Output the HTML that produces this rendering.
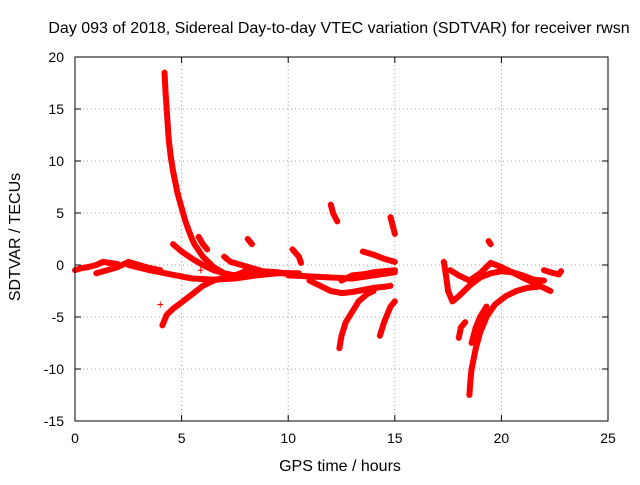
<!DOCTYPE html>
<html><head><meta charset="utf-8"><style>
body{margin:0;background:#fff;}
svg text{font-family:"Liberation Sans",sans-serif;font-size:14px;fill:#000;}
svg text.big{font-size:16px;}
</style></head><body>
<svg id="chart" width="640" height="480" xmlns="http://www.w3.org/2000/svg">
<rect width="640" height="480" fill="#fff"/>
<text class="big" x="339" y="33" text-anchor="middle">Day 093 of 2018, Sidereal Day-to-day VTEC variation (SDTVAR) for receiver rwsn</text>
<text class="big" x="340" y="471" text-anchor="middle">GPS time / hours</text>
<text class="big" transform="translate(20,237) rotate(-90)" text-anchor="middle">SDTVAR / TECUs</text>
<g id="grid"></g><g id="marks"></g>
<rect x="75" y="57" width="533" height="364" fill="none" stroke="#000" stroke-width="1"/>
</svg>
<script>
const xTicks=[0,5,10,15,20,25];
const yTicks=[-15,-10,-5,0,5,10,15,20];
const trackA=[[0,-0.5],[0.3,-0.3],[0.6,-0.2],[1,0],[1.3,0.3],[1.6,0.2],[2,0.1]];
const trackB=[[1,-0.8],[1.5,-0.5],[2,-0.2],[2.5,0.3],[3,0],[3.5,-0.3],[4,-0.5]];
const trackC=[[2.5,0],[3.5,-0.5],[4.5,-0.9],[5.5,-1.3],[6.5,-1.4],[7.5,-1.3],[8.5,-1.0],[9.5,-0.8],[10.5,-0.8]];
const trackD=[[4.2,18.5],[4.25,16.5],[4.3,15],[4.35,13.5],[4.4,12],[4.5,10.3],[4.6,9],[4.7,8],[4.8,7],[4.9,6.2],[5,5.5],[5.15,4.4],[5.3,3.5],[5.45,2.7],[5.6,2],[5.8,1.4],[6,0.8],[6.25,0.3],[6.5,-0.2],[7,-0.8],[7.5,-1.2]];
const trackE=[[4.1,-5.8],[4.3,-4.8],[4.6,-4.2],[5,-3.6],[5.5,-2.8],[6,-2],[6.5,-1.5],[7,-1.2],[7.5,-1.0],[8,-0.7],[8.5,-0.6],[9,-0.7],[10,-0.8]];
const trackF=[[4.6,2],[5,1.3],[5.5,0.6],[6,0],[6.5,-0.5],[7,-0.8],[7.5,-1.0],[8,-0.6]];
const trackG=[[5.8,2.7],[6,2],[6.2,1.5]];
const trackH=[[7,0.8],[7.3,0.3],[7.8,0],[8.3,-0.3],[8.8,-0.6],[9.5,-0.7],[10.5,-1.0]];
const trackI=[[8.1,2.5],[8.3,2.0]];
const trackJ=[[10.2,1.5],[10.5,0.8],[10.6,0.2]];
const trackK=[[10,-1],[11,-1.1],[12,-1.2],[13,-1.3],[14,-1],[15,-0.7]];
const trackL=[[11,-1.5],[11.5,-2],[12,-2.5],[12.5,-2.7],[13,-2.6],[13.5,-2.4],[14,-2.2],[14.5,-2.1],[14.8,-2]];
const trackM=[[12,5.8],[12.1,5],[12.3,4.2]];
const trackN=[[12.4,-8],[12.5,-6.8],[12.7,-5.5],[13,-4.5],[13.3,-3.5],[13.7,-2.8],[14,-2.5]];
const trackO=[[12.5,-1.5],[13,-1.0],[13.5,-0.9],[14,-0.7],[14.5,-0.6],[15,-0.5]];
const trackP=[[13.5,1.3],[14,1],[14.5,0.6],[15,0.3]];
const trackQ=[[14.3,-6.8],[14.5,-5.5],[14.8,-4],[15,-3.5]];
const trackR=[[14.8,4.6],[14.9,3.8],[15,3]];
const trackT=[[17.3,0.3],[17.4,-1],[17.5,-2.5],[17.7,-3.5],[18,-3.0],[18.5,-2.0],[19,-1.2],[19.5,-0.8],[20,-0.6],[20.5,-0.7],[21,-1],[21.5,-1.4],[22,-1.5]];
const trackU=[[17.6,-0.5],[18,-1],[18.5,-1.5],[19,-0.8],[19.5,0.2],[20,-0.2],[20.5,-0.7],[21,-1.2],[21.5,-1.7],[22,-2.2],[22.3,-2.5]];
const trackV=[[18.5,-12.5],[18.55,-11],[18.6,-10],[18.7,-9],[18.8,-8],[19,-6.5],[19.3,-5],[19.7,-3.8],[20.2,-3],[20.7,-2.5],[21.2,-2.2],[21.7,-2.1]];
const trackW=[[18,-7],[18.1,-6],[18.3,-5.5]];
const trackX=[[18.6,-7.5],[18.8,-6],[19,-5],[19.3,-4]];
const trackY=[[19.4,2.3],[19.5,2]];
const trackZ=[[22,-0.5],[22.3,-0.7],[22.7,-0.9],[22.8,-0.6]];
const outliers=[[4,-3.8],[5.9,-0.5]];
const tracks=[trackA,trackB,trackC,trackD,trackE,trackF,trackG,trackH,trackI,trackJ,trackK,trackL,trackM,trackN,trackO,trackP,trackQ,trackR,trackT,trackU,trackV,trackW,trackX,trackY,trackZ];

const NS="http://www.w3.org/2000/svg";
const X0=75,X1=608,Y0=421,Y1=57;
const xs=v=>X0+(v-0)/(25-0)*(X1-X0);
const ys=v=>Y0-(v+15)/(20+15)*(Y0-Y1);
const grid=document.getElementById('grid'),marks=document.getElementById('marks');
function mk(tag,attrs,parent){const e=document.createElementNS(NS,tag);for(const k in attrs)e.setAttribute(k,attrs[k]);parent.appendChild(e);return e;}
xTicks.forEach(t=>{
  const x=xs(t);
  if(t>0&&t<25){const l=mk('line',{x1:x,x2:x,y1:Y1,y2:Y0,stroke:'#a0a0a0','stroke-dasharray':'1,3'},grid);
  
  }
  mk('line',{x1:x,x2:x,y1:Y0,y2:Y0-6,stroke:'#000'},grid);
  mk('line',{x1:x,x2:x,y1:Y1,y2:Y1+6,stroke:'#000'},grid);
  const tx=mk('text',{x:x,y:Y0+22,'text-anchor':'middle'},grid);tx.textContent=t;
  
  
});
yTicks.forEach(t=>{
  const y=ys(t);
  if(t>-15&&t<20){const l=mk('line',{x1:X0,x2:X1,y1:y,y2:y,stroke:'#a0a0a0','stroke-dasharray':'1,3'},grid);
  
  }
  mk('line',{x1:X0,x2:X0+6,y1:y,y2:y,stroke:'#000'},grid);
  mk('line',{x1:X1,x2:X1-6,y1:y,y2:y,stroke:'#000'},grid);
  const tx=mk('text',{x:X0-11,y:y+5,'text-anchor':'end'},grid);tx.textContent=t;
  
  
});
tracks.forEach(tr=>{
  const d=tr.map((p,i)=>(i?'L':'M')+xs(p[0]).toFixed(1)+','+ys(p[1]).toFixed(1)).join('');
  const pth=mk('path',{d:d,fill:'none',stroke:'#ff0000','stroke-width':6,'stroke-linejoin':'round','stroke-linecap':'round'},marks);
  
  
});
tracks.concat([outliers]).forEach(tr=>tr.forEach(p=>{
  const x=xs(p[0]),y=ys(p[1]);
  const m=mk('path',{d:`M${x-3},${y}h6M${x},${y-3}v6`,stroke:'#ff0000','stroke-width':1},marks);
  
  
}));
</script>
</body></html>
